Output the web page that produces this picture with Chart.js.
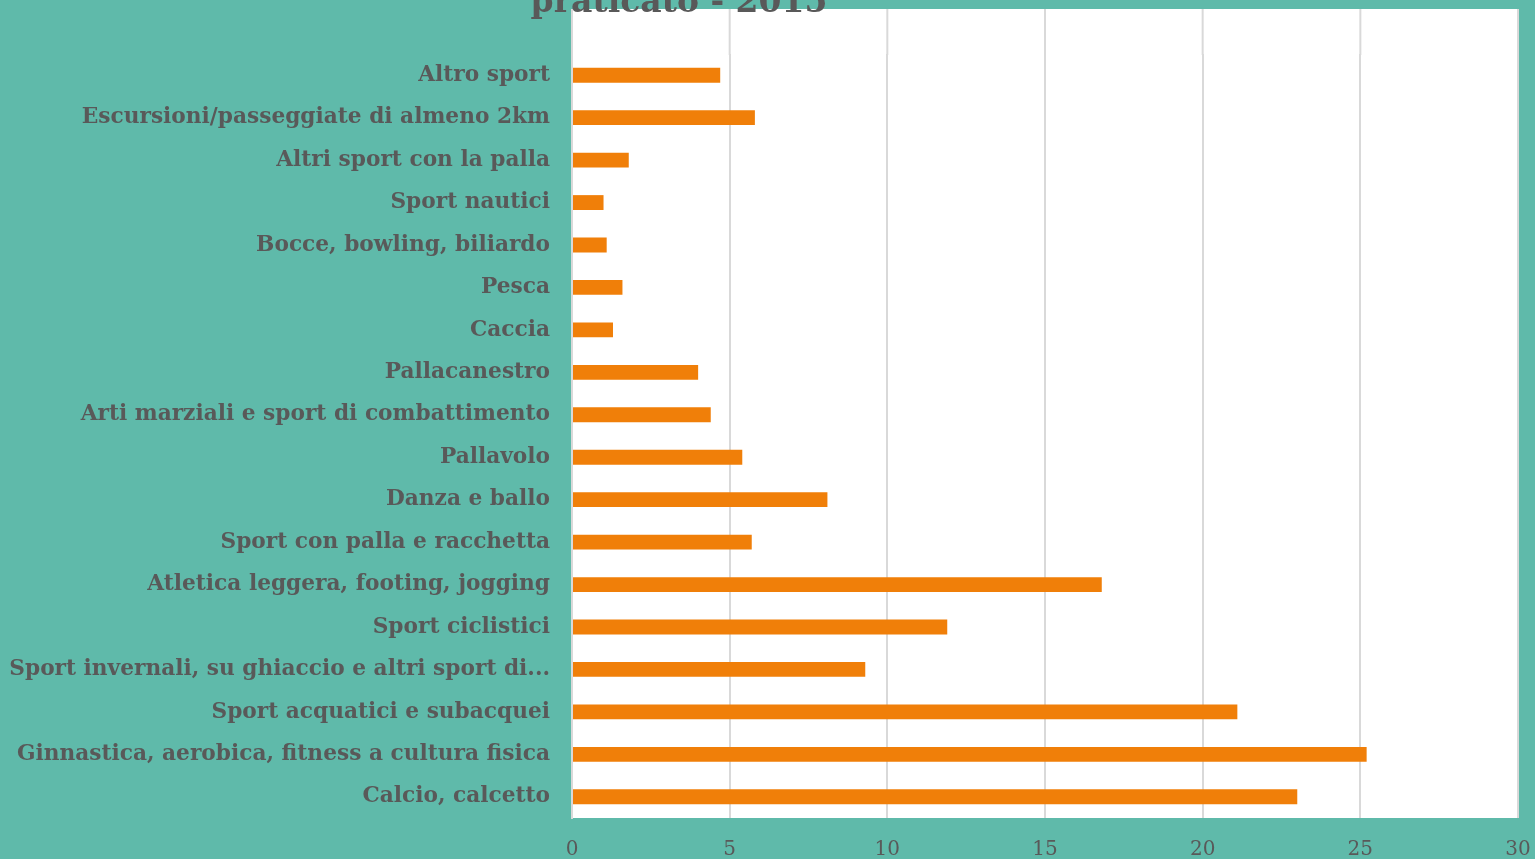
<!DOCTYPE html>
<html>
<head>
<meta charset="utf-8">
<script src="https://cdn.jsdelivr.net/npm/chart.js@4"></script>
<style>
    html, body { margin: 0; padding: 0; background: #5FBAAA; overflow: hidden; }
    #wrap { position: relative; width: 1535px; height: 859px; }
</style>
</head>
<body>
<div id="wrap"><canvas id="sportChart"></canvas></div>
<script>
// Data (bottom to top, as in the original sheet)
const categories = [
    'Calcio, calcetto',
    'Ginnastica, aerobica, fitness a cultura fisica',
    'Sport acquatici e subacquei',
    'Sport invernali, su ghiaccio e altri sport di...',
    'Sport ciclistici',
    'Atletica leggera, footing, jogging',
    'Sport con palla e racchetta',
    'Danza e ballo',
    'Pallavolo',
    'Arti marziali e sport di combattimento',
    'Pallacanestro',
    'Caccia',
    'Pesca',
    'Bocce, bowling, biliardo',
    'Sport nautici',
    'Altri sport con la palla',
    'Escursioni/passeggiate di almeno 2km',
    'Altro sport'
];
const percentages = [23.0, 25.2, 21.1, 9.3, 11.9, 16.8, 5.7, 8.1, 5.4, 4.4, 4.0, 1.3, 1.6, 1.1, 1.0, 1.8, 5.8, 4.7];
const xTicks = [0, 5, 10, 15, 20, 25, 30];
const titleText = 'praticato - 2015';

const textColor = '#595959';
const gridColor = '#d9d9d9';
const plotTop = 9;

// White plot background, gridlines above the bars, and the cut-off title
const plotDecor = {
    id: 'plotDecor',
    beforeDraw(chart) {
        const { ctx, chartArea } = chart;
        ctx.save();
        ctx.fillStyle = '#ffffff';
        ctx.fillRect(chartArea.left, plotTop, chartArea.right - chartArea.left, chartArea.bottom - plotTop);
        ctx.restore();
    },
    beforeDatasetsDraw(chart) {
        const { ctx, chartArea, scales } = chart;
        ctx.save();
        ctx.strokeStyle = gridColor;
        ctx.lineWidth = 2;
        xTicks.forEach(v => {
            const px = scales.x.getPixelForValue(v);
            ctx.beginPath();
            ctx.moveTo(px, plotTop);
            ctx.lineTo(px, chartArea.top + 1);
            ctx.stroke();
        });
        ctx.restore();
    },
    afterDraw(chart) {
        const { ctx } = chart;
        ctx.save();
        ctx.fillStyle = textColor;
        ctx.font = 'bold 33px "DejaVu Serif"';
        ctx.textAlign = 'center';
        ctx.textBaseline = 'alphabetic';
        ctx.fillText(titleText, 679, 12);
        ctx.restore();
    }
};

const ctx = document.getElementById('sportChart').getContext('2d');
const chart = new Chart(ctx, {
    type: 'bar',
    data: {
        labels: categories,
        datasets: [{
            data: percentages,
            backgroundColor: '#F07F09',
            borderWidth: 0,
            barPercentage: 0.35,
            categoryPercentage: 1
        }]
    },
    options: {
        indexAxis: 'y',
        responsive: true,
        maintainAspectRatio: false,
        animation: false,
        layout: {
            padding: { top: 54, right: 17, left: 0, bottom: 0 }
        },
        plugins: {
            legend: { display: false },
            tooltip: { enabled: false }
        },
        scales: {
            x: {
                min: 0,
                max: 30,
                afterBuildTicks: scale => {
                    scale.ticks = xTicks.map(v => ({ value: v }));
                },
                afterFit: scale => {
                    scale.height = 41;
                    scale.paddingLeft = 0;
                    scale.paddingRight = 0;
                },
                border: { display: false },
                grid: {
                    color: gridColor,
                    lineWidth: 2,
                    drawTicks: false
                },
                ticks: {
                    color: textColor,
                    padding: 20,
                    font: { family: '"DejaVu Serif"', size: 20 }
                }
            },
            y: {
                reverse: true,
                afterFit: scale => { scale.width = 572; },
                border: { display: true, color: gridColor, width: 2 },
                grid: { display: false },
                ticks: {
                    color: textColor,
                    padding: 14,
                    font: { family: '"DejaVu Serif"', size: 21.7, weight: 'bold' }
                }
            }
        }
    },
    plugins: [plotDecor]
});
</script>
</body>
</html>
